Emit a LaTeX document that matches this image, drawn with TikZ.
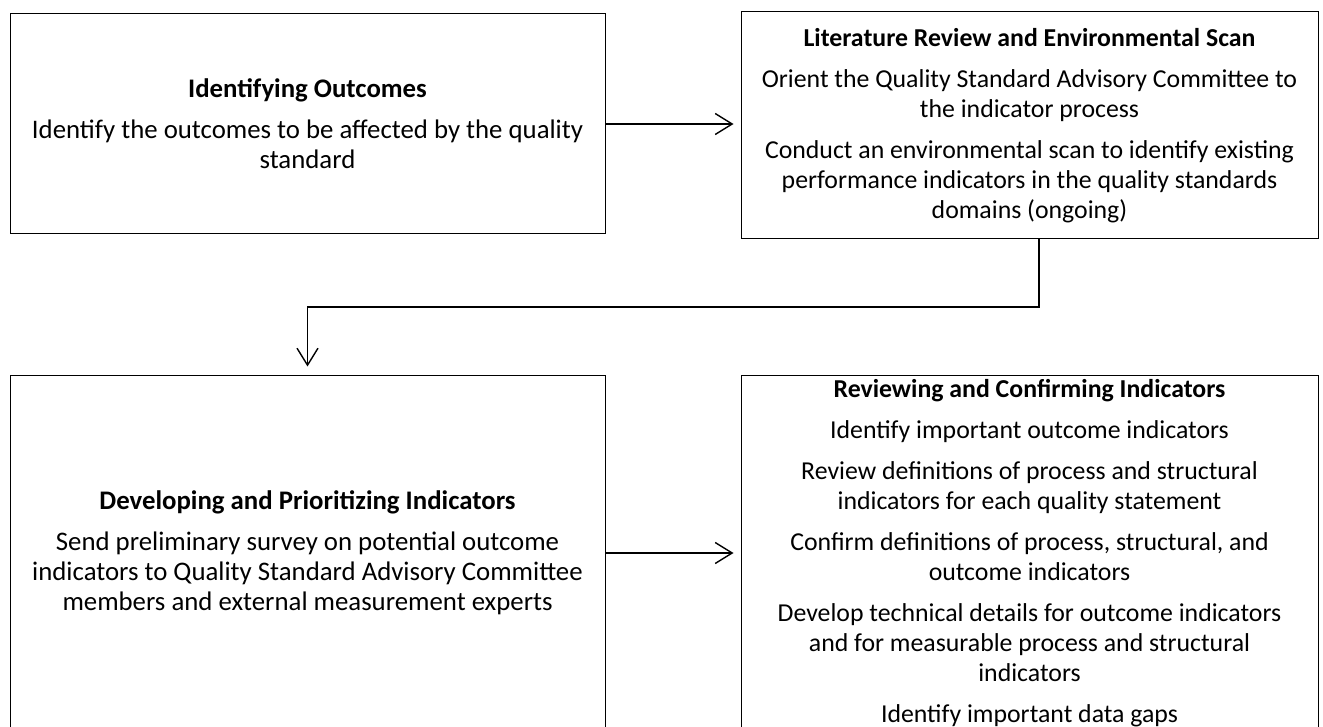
\documentclass[tikz,border=0pt]{standalone}
\usepackage{fontspec}
\setmainfont{Carlito}
\usepackage{tikz}
\usetikzlibrary{arrows.meta}

\begin{document}
\begin{tikzpicture}[
  x=0.5pt,y=-0.5pt,
  stage/.style={rectangle,draw,line width=0.5pt,align=center,inner sep=0pt,
                font=\fontsize{13.4}{15}\selectfont},
  dense/.style={stage,font=\fontsize{12.9}{15}\selectfont},
  arrow/.style={-{Straight Barb[length=8.5pt,width=10.5pt]},line width=0.7pt}
]
  \useasboundingbox (0,0) rectangle (1323,727);
  \clip (0,0) rectangle (1323,727);
  \node[stage,minimum width=297.5pt,minimum height=110pt] (outcomes) at (307.5,124) {
    \textbf{Identifying Outcomes}\\[5.5pt]
    Identify the outcomes to be affected by the quality\\
    standard
  };
  \node[dense,minimum width=288.5pt,minimum height=113.5pt] (litscan) at (1029.5,125.5) {
    \textbf{Literature Review and Environmental Scan}\\[5.5pt]
    Orient the Quality Standard Advisory Committee to\\
    the indicator process\\[5.5pt]
    Conduct an environmental scan to identify existing\\
    performance indicators in the quality standards\\
    domains (ongoing)
  };
  \node[stage,minimum width=297.5pt,minimum height=178pt] (develop) at (307.5,553) {
    \textbf{Developing and Prioritizing Indicators}\\[5.5pt]
    Send preliminary survey on potential outcome\\
    indicators to Quality Standard Advisory Committee\\
    members and external measurement experts
  };
  \node[dense,minimum width=288.5pt,minimum height=178pt] (confirm) at (1029.5,553) {
    \textbf{Reviewing and Confirming Indicators}\\[5.5pt]
    Identify important outcome indicators\\[5.5pt]
    Review definitions of process and structural\\
    indicators for each quality statement\\[5.5pt]
    Confirm definitions of process, structural, and\\
    outcome indicators\\[5.5pt]
    Develop technical details for outcome indicators\\
    and for measurable process and structural\\
    indicators\\[5.5pt]
    Identify important data gaps
  };
  \coordinate (bend) at (1039,307);
  \draw[arrow,shorten >=3.5pt] (outcomes.east) -- (outcomes.east -| litscan.west);
  \draw[arrow,shorten >=4pt] (litscan.south -| bend) -- (bend) -| (develop.north);
  \draw[arrow,shorten >=3.5pt] (develop.east) -- (develop.east -| confirm.west);
\end{tikzpicture}
\end{document}
